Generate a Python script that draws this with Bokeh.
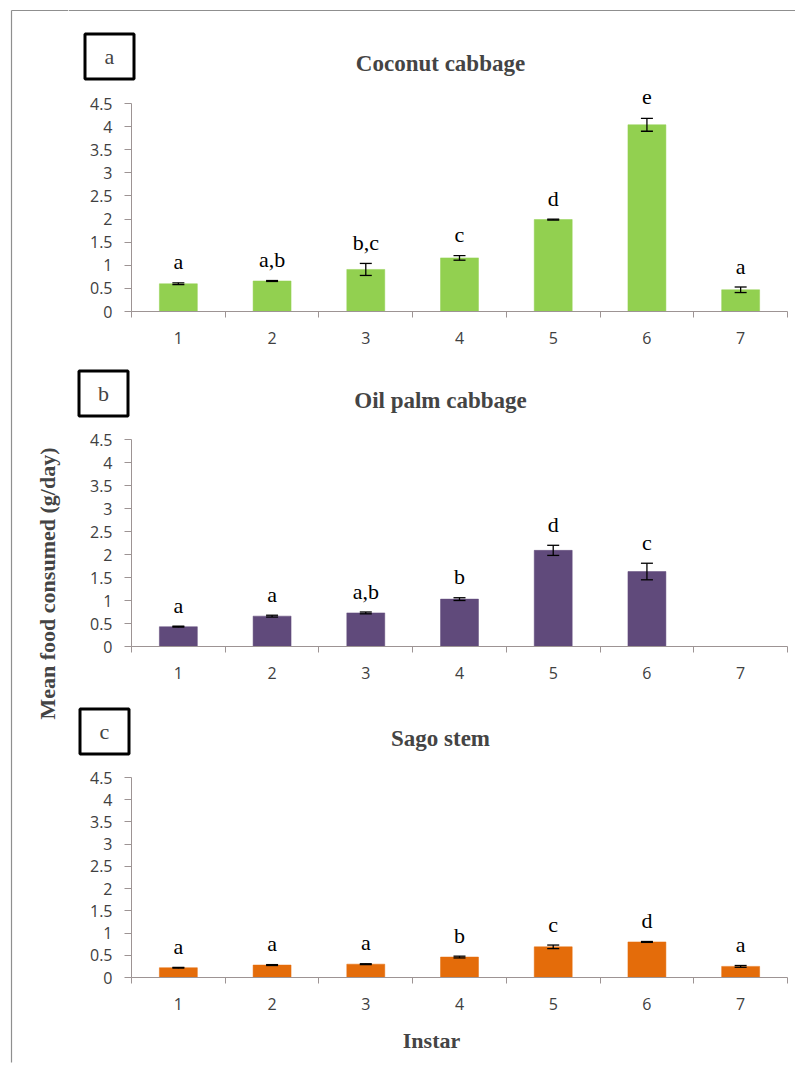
import math
from bokeh.plotting import figure
from bokeh.models import (ColumnDataSource, Range1d, FixedTicker, NumeralTickFormatter,
                          Label, LabelSet, Whisker, TeeHead, Span)
from bokeh.layouts import row, column
from bokeh.core.properties import value
from bokeh.embed import file_html
from bokeh.resources import INLINE

# ---------------- data ----------------
instars = [1, 2, 3, 4, 5, 6, 7]
y_ticks = [0, 0.5, 1, 1.5, 2, 2.5, 3, 3.5, 4, 4.5]

coconut_mean = [0.60, 0.66, 0.91, 1.16, 1.99, 4.04, 0.47]
coconut_se = [0.02, 0.01, 0.13, 0.05, 0.01, 0.14, 0.06]
coconut_letters = ["a", "a,b", "b,c", "c", "d", "e", "a"]

oilpalm_mean = [0.43, 0.66, 0.73, 1.03, 2.09, 1.63, None]
oilpalm_se = [0.01, 0.02, 0.02, 0.03, 0.11, 0.18, None]
oilpalm_letters = ["a", "a", "a,b", "b", "d", "c", None]

sago_mean = [0.22, 0.28, 0.30, 0.46, 0.69, 0.80, 0.25]
sago_se = [0.01, 0.01, 0.01, 0.02, 0.04, 0.01, 0.02]
sago_letters = ["a", "a", "a", "b", "c", "d", "a"]

panel_titles = ["Coconut cabbage", "Oil palm cabbage", "Sago stem"]
panel_tags = ["a", "b", "c"]
bar_colors = ["#92D050", "#604A7B", "#E46C0A"]
x_title = "Instar"
y_title = "Mean food consumed (g/day)"

# ---------------- layout constants (page pixels) ----------------
LEFT_W = 68
FIG_W = 727
FRAME_L, FRAME_R = 131, 787
AXIS_COLOR = "#9d9494"
TICK_COLOR = "#404040"
FRAME_COLOR = "#8f8f8f"
SERIF = "Liberation Serif"


def make_panel(mean, se, letters, color, title, tag, fig_top, fig_bottom,
               ax_top, ax_bottom, tag_center, title_y, xlabel=None, top_rule=False):
    height = fig_bottom - fig_top
    px_x = (FRAME_R - FRAME_L) / 7.0
    px_y = (ax_bottom - ax_top) / 4.5

    def dx(X):
        return 0.5 + (X - FRAME_L) / px_x

    def dy(Y):
        return (ax_bottom - Y) / px_y

    p = figure(width=FIG_W, height=height,
               x_range=Range1d(dx(LEFT_W), dx(LEFT_W + FIG_W)),
               y_range=Range1d(dy(fig_bottom), dy(fig_top)),
               output_backend="svg", toolbar_location=None, min_border=0)
    p.title.visible = False
    p.outline_line_color = None
    p.xgrid.visible = False
    p.ygrid.visible = False
    p.background_fill_color = "white"
    p.border_fill_color = "white"

    xs, tops, ups, los, labs = [], [], [], [], []
    for x, m, s, l in zip(instars, mean, se, letters):
        if m is None:
            continue
        xs.append(x)
        tops.append(m)
        ups.append(m + s)
        los.append(m - s)
        labs.append(l)
    src = ColumnDataSource(dict(x=xs, top=tops, upper=ups, lower=los, letter=labs))

    p.vbar(x="x", top="top", width=0.405, bottom=0, source=src,
           fill_color=color, line_color=color, line_width=0.5)

    w = Whisker(base="x", upper="upper", lower="lower", source=src,
                line_color="black", line_width=1.3,
                upper_head=TeeHead(size=12, line_width=1.3, line_color="black"),
                lower_head=TeeHead(size=12, line_width=1.3, line_color="black"))
    w.level = "overlay"
    p.add_layout(w)

    ls = LabelSet(x="x", y="upper", text="letter", source=src, y_offset=21,
                  text_align="center", text_baseline="middle",
                  text_font=value(SERIF), text_font_size=value("22px"),
                  text_color="black")
    p.add_layout(ls)

    # axes (drawn inside the frame at fixed positions)
    yax = p.yaxis[0]
    yax.fixed_location = 0.5
    yax.bounds = (0, 4.5)
    yax.ticker = FixedTicker(ticks=y_ticks, minor_ticks=[])
    yax.formatter = NumeralTickFormatter(format="0.[0]")
    yax.axis_line_color = AXIS_COLOR
    yax.major_tick_line_color = AXIS_COLOR
    yax.major_tick_out = 7
    yax.major_tick_in = 0
    yax.minor_tick_line_color = None
    yax.major_label_standoff = 12
    yax.major_label_text_font = "Open Sans"
    yax.major_label_text_font_size = "16px"
    yax.major_label_text_color = TICK_COLOR

    xax = p.xaxis[0]
    xax.fixed_location = 0
    xax.bounds = (0.5, 7.5)
    xax.ticker = FixedTicker(ticks=instars, minor_ticks=[0.5 + i for i in range(8)])
    xax.axis_line_color = AXIS_COLOR
    xax.axis_line_width = 1.2
    xax.major_tick_line_color = None
    xax.major_tick_out = 0
    xax.major_tick_in = 0
    xax.minor_tick_line_color = AXIS_COLOR
    xax.minor_tick_out = 6
    xax.minor_tick_in = 0
    xax.major_label_standoff = 14
    xax.major_label_text_font = "Open Sans"
    xax.major_label_text_font_size = "16px"
    xax.major_label_text_color = TICK_COLOR

    # panel tag box
    p.rect(x=dx(tag_center[0]), y=dy(tag_center[1]), width=49, height=45,
           width_units="screen", height_units="screen",
           fill_color=None, line_color="black", line_width=3)
    p.add_layout(Label(x=dx(tag_center[0]), y=dy(tag_center[1]), text=tag,
                       text_font=SERIF, text_font_size="22px",
                       text_align="center", text_baseline="middle"))
    # title
    p.add_layout(Label(x=dx(440), y=dy(title_y), text=title,
                       text_font=SERIF, text_font_size="23px", text_font_style="bold",
                       text_align="center", text_baseline="middle"))
    if xlabel:
        p.add_layout(Label(x=dx(431), y=dy(1040), text=xlabel,
                           text_font=SERIF, text_font_size="22px", text_font_style="bold",
                           text_align="center", text_baseline="middle"))
    if top_rule:
        p.add_layout(Span(location=dy(10), dimension="width",
                          line_color=FRAME_COLOR, line_width=1.2))
    return p


pa = make_panel(coconut_mean, coconut_se, coconut_letters, bar_colors[0],
                panel_titles[0], panel_tags[0], 0, 358, 103, 311, (109, 56), 63,
                top_rule=True)
pb = make_panel(oilpalm_mean, oilpalm_se, oilpalm_letters, bar_colors[1],
                panel_titles[1], panel_tags[1], 358, 698, 439, 646, (103, 393), 400)
pc = make_panel(sago_mean, sago_se, sago_letters, bar_colors[2],
                panel_titles[2], panel_tags[2], 698, 1064, 777, 977, (104, 731), 738,
                xlabel=x_title)

# left strip with the shared y-axis title and outer frame line
TOTAL_H = 1064
left = figure(width=LEFT_W, height=TOTAL_H, x_range=Range1d(0, LEFT_W),
              y_range=Range1d(TOTAL_H, 0), x_axis_type=None, y_axis_type=None,
              output_backend="svg", toolbar_location=None, min_border=0)
left.title.visible = False
left.outline_line_color = None
left.xgrid.visible = False
left.ygrid.visible = False
left.segment(x0=[11, 11], y0=[10, 10], x1=[11, LEFT_W], y1=[1062, 10],
             line_color=FRAME_COLOR, line_width=1.2)
left.add_layout(Label(x=47, y=583, text=y_title, angle=math.pi / 2,
                      text_font=SERIF, text_font_size="22px", text_font_style="bold",
                      text_align="center", text_baseline="middle"))

layout = row(left, column(pa, pb, pc))

open("out.html", "w").write(file_html(layout, INLINE))
